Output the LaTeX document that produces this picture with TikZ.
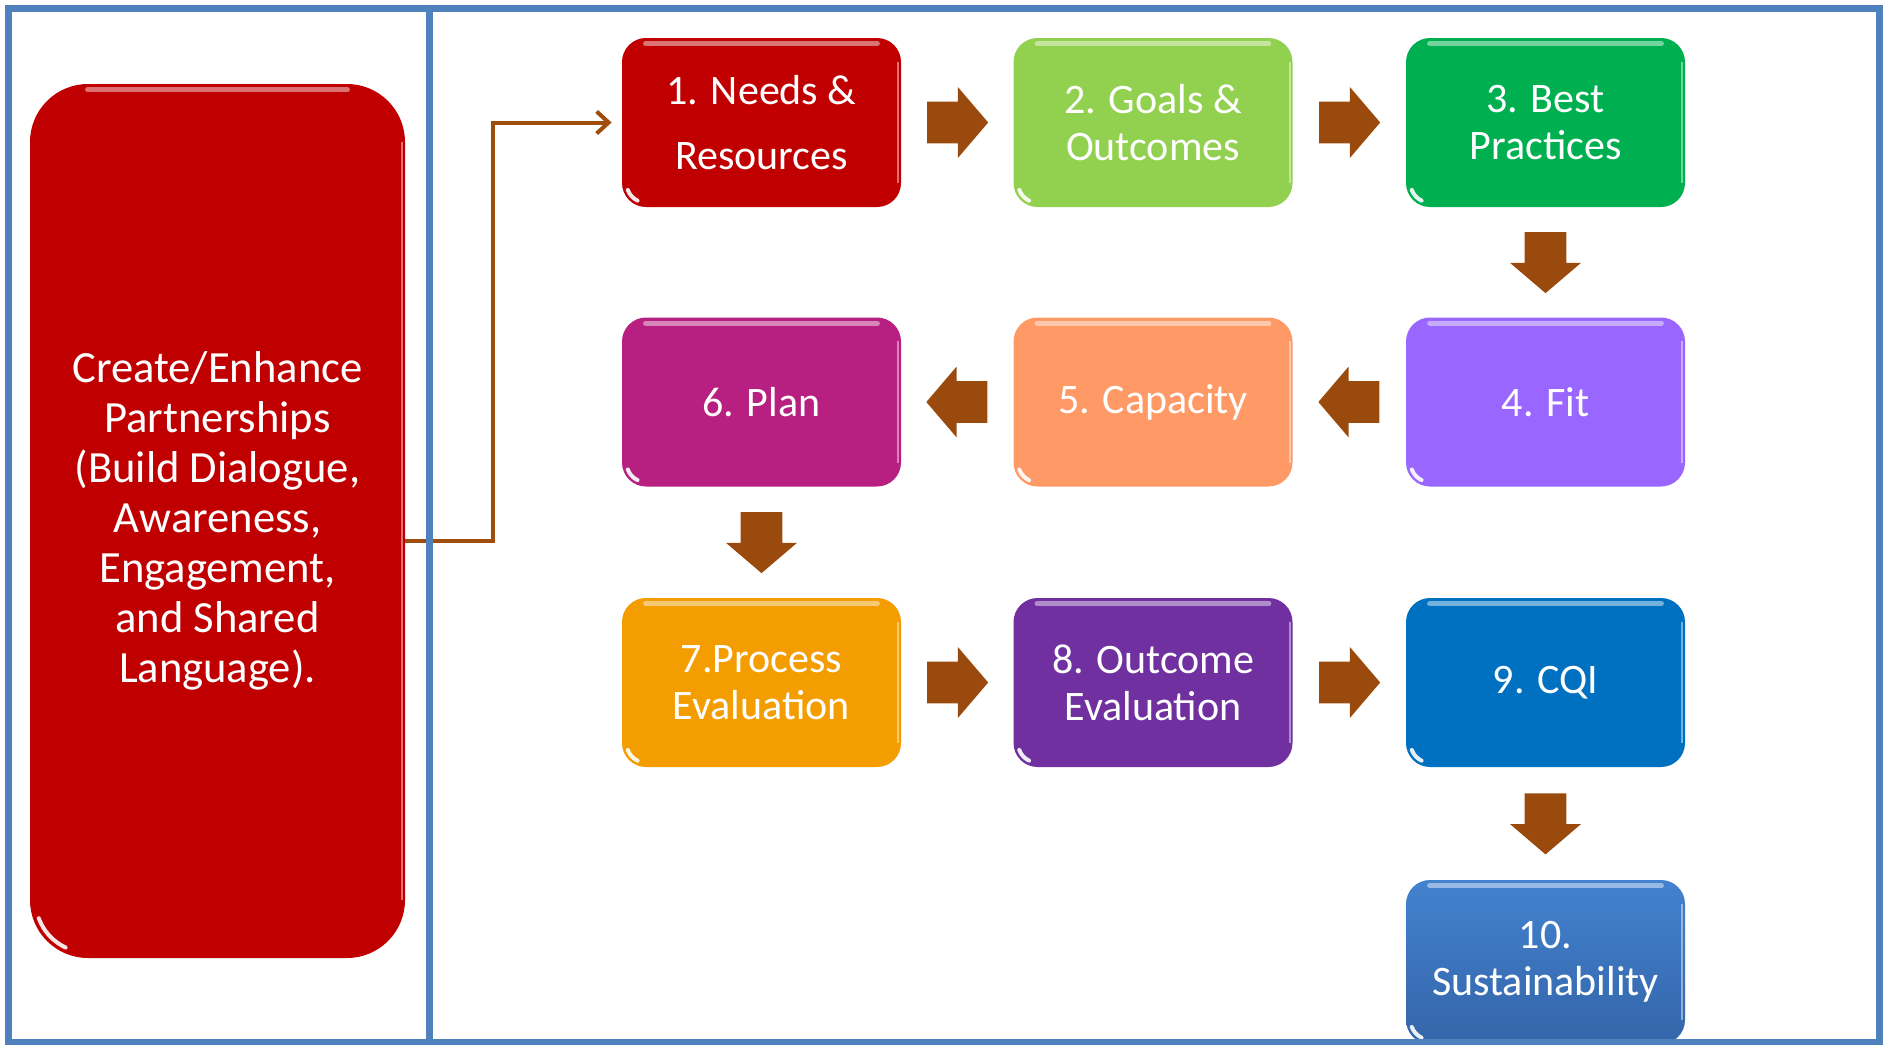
\documentclass[tikz,border=0pt]{standalone}
\usepackage{fontspec}
\setmainfont{Carlito}
\usetikzlibrary{shapes.arrows,arrows.meta,calc}
\definecolor{frameblue}{HTML}{4F81BD}
\definecolor{cred}{HTML}{C00000}
\definecolor{clgreen}{HTML}{92D050}
\definecolor{cgreen}{HTML}{00B050}
\definecolor{clav}{HTML}{9966FF}
\definecolor{csalmon}{HTML}{FF9966}
\definecolor{cmag}{HTML}{B71F80}
\definecolor{corange}{HTML}{F49D00}
\definecolor{cpurple}{HTML}{7030A0}
\definecolor{cblue}{HTML}{0070C0}
\definecolor{csteeltop}{HTML}{4382CF}
\definecolor{csteelbot}{HTML}{3465A9}
\definecolor{arrowbrown}{HTML}{9A4A0C}
\definecolor{connbrown}{HTML}{9E4D0B}
\newcommand\gloss[3]{%
  \draw[white,opacity=0.45,line width=2.5pt,line cap=round]
    ([xshift=#2,yshift=-3pt]#1.north west) -- ([xshift=-#2,yshift=-3pt]#1.north east);
  \draw[white,opacity=0.45,line width=1pt]
    ([xshift=-1.5pt,yshift=-#2]#1.north east) -- ([xshift=-1.5pt,yshift=#2]#1.south east);
  \draw[white,opacity=0.9,line width=2pt,line cap=round]
    ([xshift=#2,yshift=#2]#1.south west) ++(200:#3) arc[start angle=200,end angle=245,radius=#3];
}
\begin{document}
\begin{tikzpicture}[x=0.5pt,y=-0.5pt,
  box/.style={draw=none, rounded corners=12pt, minimum width=139.5pt,
    minimum height=84.5pt, inner sep=0pt, text=white, align=center,
    font=\fontsize{21pt}{23.5pt}\selectfont},
  blk/.style={single arrow, draw=none, fill=arrowbrown, minimum height=30.5pt,
    single arrow head extend=7.25pt, single arrow tip angle=99,
    inner xsep=0pt, inner ysep=10.25pt, anchor=tail},
  blkv/.style={blk, inner xsep=10.25pt, inner ysep=0pt, shape border rotate=270},
  conn/.style={draw=connbrown, line width=2pt,
    -{Straight Barb[length=6pt,width=11pt]}},
]
\useasboundingbox (0,0) rectangle (1883,1044);
\fill[white] (0,0) rectangle (1883,1044);

% big box
\node[box, fill=cred, rounded corners=29pt, minimum width=187.5pt,
  minimum height=437pt, font=\fontsize{22.3pt}{25pt}\selectfont] (big) at (217.5,521)
  {Create/Enhance\\Partnerships\\(Build Dialogue,\\Awareness,\\Engagement,\\and Shared\\Language).};

% step boxes
\node[box, fill=cred]    (n1) at (761.5,122.5) {1. Needs \&\\[9pt]Resources};
\node[box, fill=clgreen] (n2) at (1153,122.5)  {2. Goals \&\\Outcomes};
\node[box, fill=cgreen]  (n3) at (1545.5,122.5) {3. Best\\Practices};
\node[box, fill=clav]    (n4) at (1545.5,402) {4. Fit};
\node[box, fill=csalmon] (n5) at (1153,402)   {5. Capacity};
\node[box, fill=cmag]    (n6) at (761.5,402)  {6. Plan};
\node[box, fill=corange] (n7) at (761.5,682.5) {7.Process\\Evaluation};
\node[box, fill=cpurple] (n8) at (1153,682.5) {8. Outcome\\Evaluation};
\node[box, fill=cblue]   (n9) at (1545.5,682.5) {9. CQI};
\node[box, top color=csteeltop, bottom color=csteelbot, minimum height=82pt]
  (n10) at (1545.5,962) {10.\\Sustainability};

\foreach \n in {n1,n2,n3,n4,n5,n6,n7,n8,n9,n10} {\gloss{\n}{12pt}{9.5pt}}
\gloss{big}{29pt}{26pt}

% block arrows
\node[blk] (a12) at ($(n1.east)!0.5!(n2.west)+(-30.5,0)$) {};
\node[blk] (a23) at ($(n2.east)!0.5!(n3.west)+(-30.5,0)$) {};
\node[blkv] (a34) at ($(n3.south)!0.5!(n4.north)+(0,-30.5)$) {};
\node[blk, shape border rotate=180] (a45) at ($(n4.west)!0.5!(n5.east)+(30.5,0)$) {};
\node[blk, shape border rotate=180] (a56) at ($(n5.west)!0.5!(n6.east)+(30.5,0)$) {};
\node[blkv] (a67) at ($(n6.south)!0.5!(n7.north)+(0,-30.5)$) {};
\node[blk] (a78) at ($(n7.east)!0.5!(n8.west)+(-30.5,0)$) {};
\node[blk] (a89) at ($(n8.east)!0.5!(n9.west)+(-30.5,0)$) {};
\node[blkv] (a910) at ($(n9.south)!0.5!(n10.north)+(0,-30.5)$) {};

% connector from big box
\coordinate (turn) at (493,541);
\draw[conn, shorten >=5pt] (big.east |- turn) -- (turn) |- (n1.west);

% frame
\draw[frameblue, line width=3.5pt] (8,8) rectangle (1879.5,1042);
\draw[frameblue, line width=3.5pt] (429.5,8) -- (429.5,1042);
\end{tikzpicture}
\end{document}
